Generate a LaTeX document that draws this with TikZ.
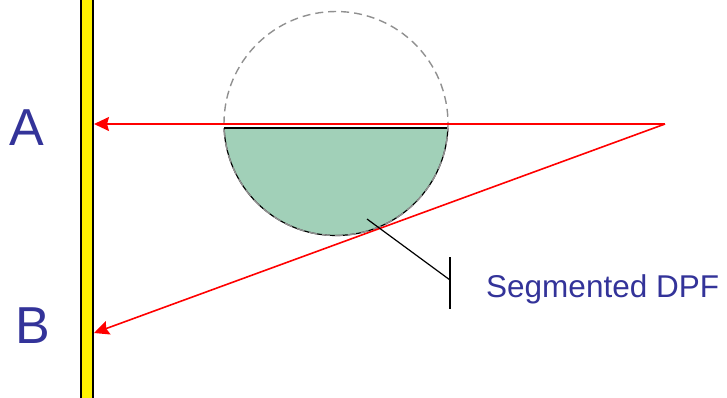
\documentclass[tikz,border=0pt]{standalone}
\usepackage{fontspec}
\newfontfamily\labelfont{Liberation Sans}
\usepackage{xcolor}
\usepackage{tikz}
\usetikzlibrary{arrows.meta,positioning}
\definecolor{lblblue}{HTML}{333399}
\definecolor{dpfgreen}{HTML}{A1D0B8}
\definecolor{dashgray}{HTML}{909090}

\begin{document}
\begin{tikzpicture}[x=1pt, y=-1pt,
  ray/.style={red, line width=1.6pt, -{Stealth[length=15pt, width=14pt, inset=2pt]}},
  letter/.style={inner sep=0pt, anchor=base, text=lblblue,
    font=\labelfont\fontsize{52}{60}\selectfont},
  tag/.style={inner sep=0pt, anchor=base west, text=lblblue,
    font=\labelfont\fontsize{31.5}{38}\selectfont},
  leader/.style={black, line width=1.2pt},
]
  \useasboundingbox (0,0) rectangle (727,397);

  \draw[fill=yellow, line width=1.3pt] (81,-5) rectangle (93,402);

  \begin{scope}
    \clip (200,128) rectangle (470,260);
    \fill[dpfgreen] (336,123.5) circle (112);
    \draw[line width=1.2pt] (336,123.5) circle (112);
  \end{scope}
  \draw[line width=1.2pt] (224.1,128) -- (447.9,128);
  \draw[dashgray, dash pattern=on 8pt off 5pt, line width=1.4pt]
    (336,123.5) circle (112);

  \coordinate (src)  at (665,124);
  \coordinate (hitA) at (94,124);
  \coordinate (hitB) at (94,333);
  \draw[ray] (src) -- (hitA);
  \draw[ray] (src) -- (hitB);

  \coordinate (lead0) at (367,219);
  \coordinate (lead1) at (450,280);
  \coordinate (tickT) at (450,257);
  \coordinate (tickB) at (450,309);
  \draw[leader] (lead0) -- (lead1);
  \draw[leader] (tickT) -- (tickB);

  \node[letter] (labA) at (26.5,145) {A};
  \node[letter] (labB) at (32.5,343) {B};
  \node[tag] (dpf) at (486,297) {Segmented DPF};
\end{tikzpicture}
\end{document}
